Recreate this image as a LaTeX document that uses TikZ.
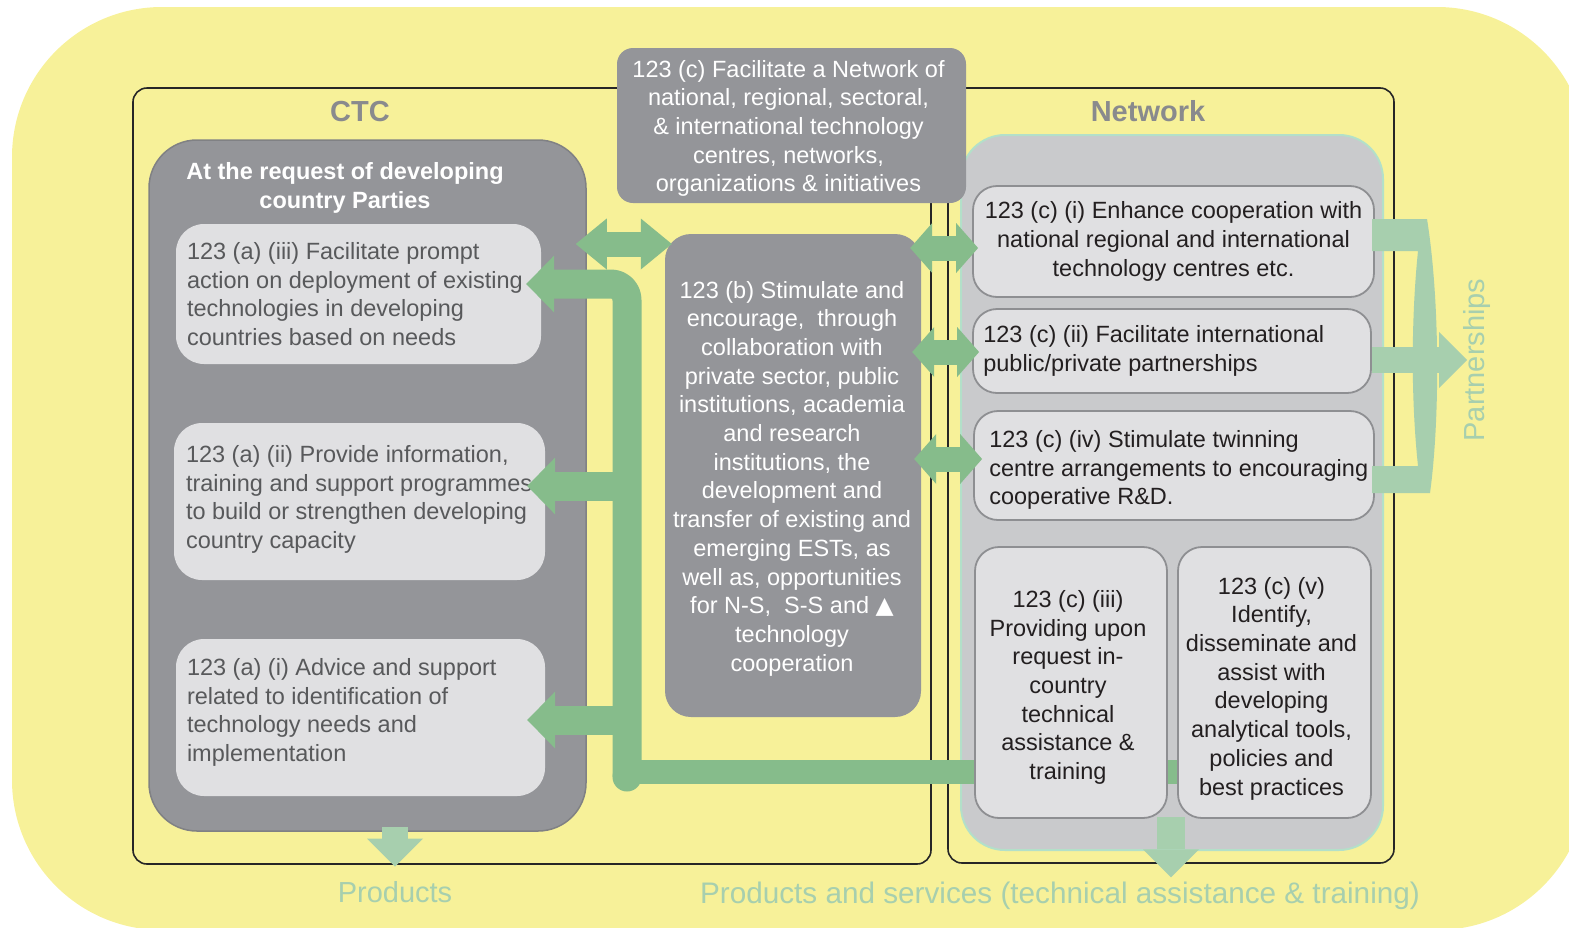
\documentclass[tikz,border=0pt]{standalone}
\usepackage{fontspec}
\setmainfont{Liberation Sans}
\newfontfamily\symbolfont{DejaVu Sans}
\usetikzlibrary{arrows.meta}

\definecolor{bgyellow}{HTML}{F7F199}
\definecolor{panelgray}{HTML}{949599}
\definecolor{paneledge}{HTML}{808184}
\definecolor{boxgray}{HTML}{E0E0E2}
\definecolor{netgray}{HTML}{C9CACC}
\definecolor{netedge}{HTML}{B3E0C9}
\definecolor{edgegray}{HTML}{8E8F92}
\definecolor{titlegray}{HTML}{898A8D}
\definecolor{textgray}{HTML}{58595B}
\definecolor{textdark}{HTML}{231F20}
\definecolor{arrowgreen}{HTML}{86BC8B}
\definecolor{palegreen}{HTML}{A7CFAE}

\newcommand{\bodysize}{\fontsize{23.5}{28.7}\selectfont}
\newcommand{\headsize}{\fontsize{29}{34}\selectfont}

\begin{document}
\begin{tikzpicture}[x=1pt, y=-1pt, line join=round,
	frame/.style={draw=black!85, line width=1.6pt, rounded corners=14pt},
	heading/.style={font=\headsize\bfseries, text=titlegray, inner sep=0pt},
	darkbox/.style={fill=panelgray, inner sep=0pt},
	darktext/.style={text=white, font=\bodysize, align=center, inner sep=0pt},
	lightbox/.style={fill=boxgray, rounded corners=28pt, inner sep=0pt},
	netbox/.style={draw=edgegray, line width=1.8pt, fill=boxgray, rounded corners=24pt, inner sep=0pt, text=textdark, font=\bodysize, align=center},
	boxtext/.style={font=\bodysize, align=left, inner sep=0pt},
	fatarrow/.style={draw=arrowgreen, line width=29pt, -{Triangle[length=28pt, width=57pt, line width=0pt]}},
	twinarrow/.style={draw=arrowgreen, line width=25pt, {Triangle[length=22pt, width=50pt, line width=0pt]}-{Triangle[length=22pt, width=50pt, line width=0pt]}},
	prodarrow/.style={draw=palegreen, line width=28pt, -{Triangle[length=28pt, width=56pt, line width=0pt]}},
	greentext/.style={font=\headsize, text=palegreen, inner sep=0pt}]

	\useasboundingbox (0,0) rectangle (1569,927);
	\fill[bgyellow, rounded corners=150pt] (12,7) rectangle (1587,930);

	% frames
	\draw[frame] (133,88) rectangle (931,864);
	\draw[frame] (948,88) rectangle (1394,863);
	\node[heading] (ctc-title) at (360,112) {CTC};
	\node[heading] (net-title) at (1148,111) {Network};

	\node[fill=panelgray, draw=paneledge, line width=1.5pt, rounded corners=48pt, inner sep=0pt,
	minimum width=437pt, minimum height=691pt] (ctcpanel) at (367.5,485.5) {};
	\node[fill=netgray, draw=netedge, line width=2pt, rounded corners=44pt, inner sep=0pt,
	minimum width=422pt, minimum height=715pt] (netpanel) at (1172,492.5) {};

	\node[font=\bodysize\bfseries, text=white, align=center, inner sep=0pt] (ctc-head) at (345,188)
	{At the request of developing\\country Parties};

	% CTC boxes
	\node[lightbox, minimum width=365pt, minimum height=140pt] (aiii) at (358.5,294) {};
	\node[boxtext, text=textgray, anchor=west] (aiii-txt) at ([xshift=11pt]aiii.west)
	{123 (a) (iii) Facilitate prompt\\action on deployment of existing\\technologies in developing\\countries based on needs};
	\node[lightbox, minimum width=371pt, minimum height=157pt] (aii) at (359.5,501.5) {};
	\node[boxtext, text=textgray, anchor=west] (aii-txt) at ([xshift=12pt, yshift=2pt]aii.west)
	{123 (a) (ii) Provide information,\\training and support programmes\\to build or strengthen developing\\country capacity};
	\node[lightbox, minimum width=369pt, minimum height=157pt] (ai) at (360.5,717.5) {};
	\node[boxtext, text=textgray, anchor=west] (ai-txt) at ([xshift=11pt, yshift=5pt]ai.west)
	{123 (a) (i) Advice and support\\related to identification of\\technology needs and\\implementation};

	% middle boxes
	\node[darkbox, rounded corners=16pt, minimum width=349pt, minimum height=155pt] (c) at (791.5,125.5) {};
	\node[darktext] (c-txt) at ([xshift=-3pt, yshift=-3pt]c.center)
	{123 (c) Facilitate a Network of\\national, regional, sectoral,\\\& international technology\\centres, networks,\\organizations \& initiatives};
	\node[darkbox, rounded corners=26pt, minimum width=256pt, minimum height=483pt] (b) at (793,475.5) {};
	\node[darktext] (b-txt) at ([xshift=-1pt, yshift=-3pt]b.center)
	{123 (b) Stimulate and\\encourage, \ through\\collaboration with\\private sector, public\\institutions, academia\\and research\\institutions, the\\development and\\transfer of existing and\\emerging ESTs, as\\well as, opportunities\\for N-S, \ S-S and {\symbolfont ▲}\\technology\\cooperation};

	% network boxes
	\node[netbox, minimum width=401pt, minimum height=111pt] (ci) at (1173.5,241.5)
	{123 (c) (i) Enhance cooperation with\\national regional and international\\technology centres etc.};
	\node[netbox, minimum width=398pt, minimum height=84pt] (cii) at (1172,351) {};
	\node[boxtext, text=textdark, anchor=west] (cii-txt) at ([xshift=11pt]cii.west)
	{123 (c) (ii) Facilitate international\\public/private partnerships};
	\node[netbox, minimum width=400pt, minimum height=109pt] (civ) at (1174,465.5) {};
	\node[boxtext, text=textdark, anchor=west] (civ-txt) at ([xshift=16pt, yshift=-4.5pt]civ.west)
	{123 (c) (iv) Stimulate twinning\\centre arrangements to encouraging\\cooperative R\&D.};
	\node[netbox, minimum width=193pt, minimum height=271pt] (cv) at (1274.5,682.5) {};
	\node[font=\bodysize, text=textdark, align=center, inner sep=0pt] (cv-txt) at ([xshift=-3pt, yshift=-6pt]cv.center)
	{123 (c) (v)\\Identify,\\disseminate and\\assist with\\developing\\analytical tools,\\policies and\\best practices};

	% green spine
	\coordinate (sp-top) at (627,284);
	\coordinate (sp-bot) at (627,777);
	\coordinate (sp-foot) at (627,772);
	\draw[arrowgreen, line width=24pt] (sp-foot) -- (sp-foot -| cv.west);

	\node[netbox, minimum width=192pt, minimum height=271pt] (ciii) at (1071,682.5) {};
	\node[font=\bodysize, text=textdark, align=center, inner sep=0pt] (ciii-txt) at ([xshift=-3pt, yshift=-5pt]ciii.center)
	{123 (c) (iii)\\Providing upon\\request in-\\country\\technical\\assistance \&\\training};

	\fill[arrowgreen] (sp-bot) circle (14.5pt);
	\draw[fatarrow, rounded corners=16pt, shorten >=-15pt] (sp-bot) -- (sp-top) -- (sp-top -| aiii.east);
	\coordinate (lv2) at (627,486);
	\coordinate (lv1) at (627,720);
	\draw[fatarrow, shorten >=-18pt] (lv2) -- (lv2 -| aii.east);
	\draw[fatarrow, shorten >=-18pt] (lv1) -- (lv1 -| ai.east);

	% two-way links
	\coordinate (lk0) at (620,244);
	\coordinate (lk1) at (945,248);
	\coordinate (lk2) at (945,352);
	\coordinate (lk3) at (945,459);
	\draw[twinarrow, line width=25pt, {Triangle[length=31pt, width=51pt, line width=0pt]}-{Triangle[length=31pt, width=51pt, line width=0pt]},
	shorten <=-11pt, shorten >=-7pt] (lk0 -| ctcpanel.east) -- (lk0 -| b.west);
	\draw[twinarrow, shorten <=-11pt, shorten >=-6pt] (lk1 -| b.east) -- (lk1 -| ci.west);
	\draw[twinarrow, shorten <=-9pt, shorten >=-7pt] (lk2 -| b.east) -- (lk2 -| cii.west);
	\draw[twinarrow, shorten <=-7pt, shorten >=-9pt] (lk3 -| b.east) -- (lk3 -| civ.west);

	% partnerships bracket
	\fill[palegreen] (1372,219) -- (1427,219) .. controls (1440,300) and (1440,420) .. (1430,493)
	-- (1372,493) -- (1372,466) -- (1418,466) .. controls (1411,400) and (1411,320) .. (1418,251)
	-- (1372,251) -- cycle;
	\node[greentext, rotate=90, anchor=north] (partner) at (1463,360) {Partnerships};
	\coordinate (br-mid) at (1372,360);
	\draw[prodarrow, line width=26pt, shorten >=-4pt] (br-mid) -- (partner.north);

	% products
	\node[greentext] (products) at (395,892) {Products};
	\node[greentext, font=\fontsize{29.7}{34}\selectfont] (services) at (1060,896) {Products and services (technical assistance \& training)};
	\draw[prodarrow, line width=26pt, shorten <=-5pt, shorten >=14.5pt] (ctcpanel.south -| products.north) -- (products.north);
	\coordinate (pr2) at (1171,817);
	\draw[prodarrow, shorten >=4.5pt] (pr2) -- (pr2 |- services.north);

\end{tikzpicture}
\end{document}
